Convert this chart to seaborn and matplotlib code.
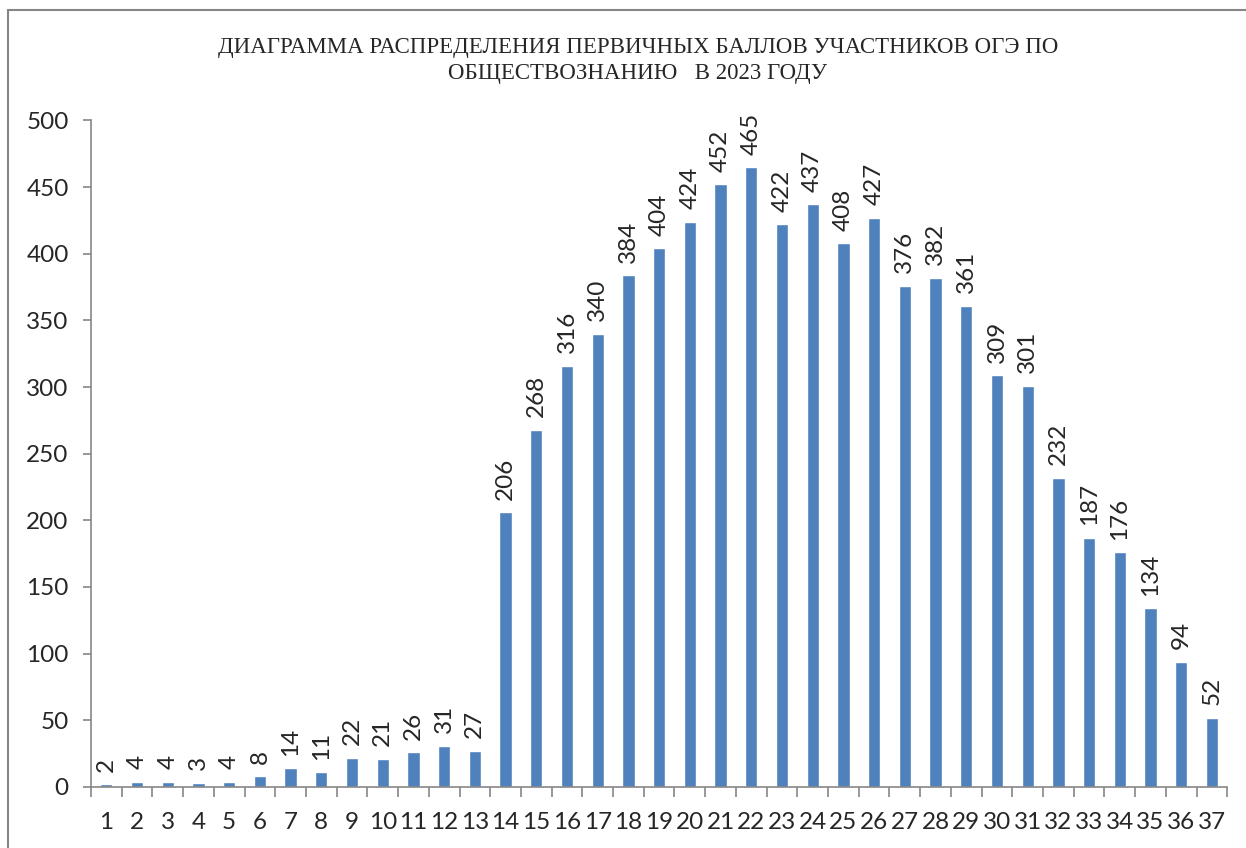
import matplotlib
matplotlib.use("Agg")
import matplotlib.pyplot as plt
import seaborn as sns
import pandas as pd
from matplotlib.patches import Rectangle
from matplotlib.ticker import MultipleLocator

scores = list(range(1, 38))
counts = [2, 4, 4, 3, 4, 8, 14, 11, 22, 21, 26, 31, 27, 206, 268, 316, 340, 384, 404, 424,
          452, 465, 422, 437, 408, 427, 376, 382, 361, 309, 301, 232, 187, 176, 134, 94, 52]
title = "ДИАГРАММА РАСПРЕДЕЛЕНИЯ ПЕРВИЧНЫХ БАЛЛОВ УЧАСТНИКОВ ОГЭ ПО\nОБЩЕСТВОЗНАНИЮ   В 2023 ГОДУ"

df = pd.DataFrame({"score": [str(s) for s in scores], "count": counts})

sns.set_style("white")
plt.rcParams['font.family'] = ['Lato', 'DejaVu Sans']

fig = plt.figure(figsize=(12.46, 8.48), dpi=100)
ax = fig.add_axes([0.073, 0.072, 0.912, 0.786])

sns.barplot(data=df, x="score", y="count", color="#4F81BD", width=0.4, saturation=1, ax=ax)
ax.bar_label(ax.containers[0], rotation=90, padding=9, fontsize=17.5)

ax.set_xlim(-0.5, len(scores) - 0.5)
ax.set_ylim(0, 500)
ax.yaxis.set_major_locator(MultipleLocator(50))
ax.set_xlabel("")
ax.set_ylabel("")

gray = "#868686"
for s in ["top", "right"]:
    ax.spines[s].set_visible(False)
for s in ["left", "bottom"]:
    ax.spines[s].set_color(gray)
    ax.spines[s].set_linewidth(1.2)

ax.tick_params(axis="y", labelsize=17.5, length=6, width=1.2, color=gray, direction="out", left=True, pad=10)
ax.tick_params(axis="x", which="major", labelsize=17.5, length=0, pad=18)
ax.set_xticks([i - 0.5 for i in range(len(scores) + 1)], minor=True)
ax.tick_params(axis="x", which="minor", length=7, width=1.2, color=gray, direction="out", bottom=True)

fig.text(0.512, 0.929, title, ha="center", va="center", fontsize=16.5,
         family=["Liberation Serif", "DejaVu Serif"], linespacing=1.32)

fig.patches.append(Rectangle((8 / 1246, -0.02), 1.1, 1 - 10 / 848 + 0.02, transform=fig.transFigure,
                             fill=False, edgecolor=gray, linewidth=1.5))

fig.savefig("out.png", dpi=100)
